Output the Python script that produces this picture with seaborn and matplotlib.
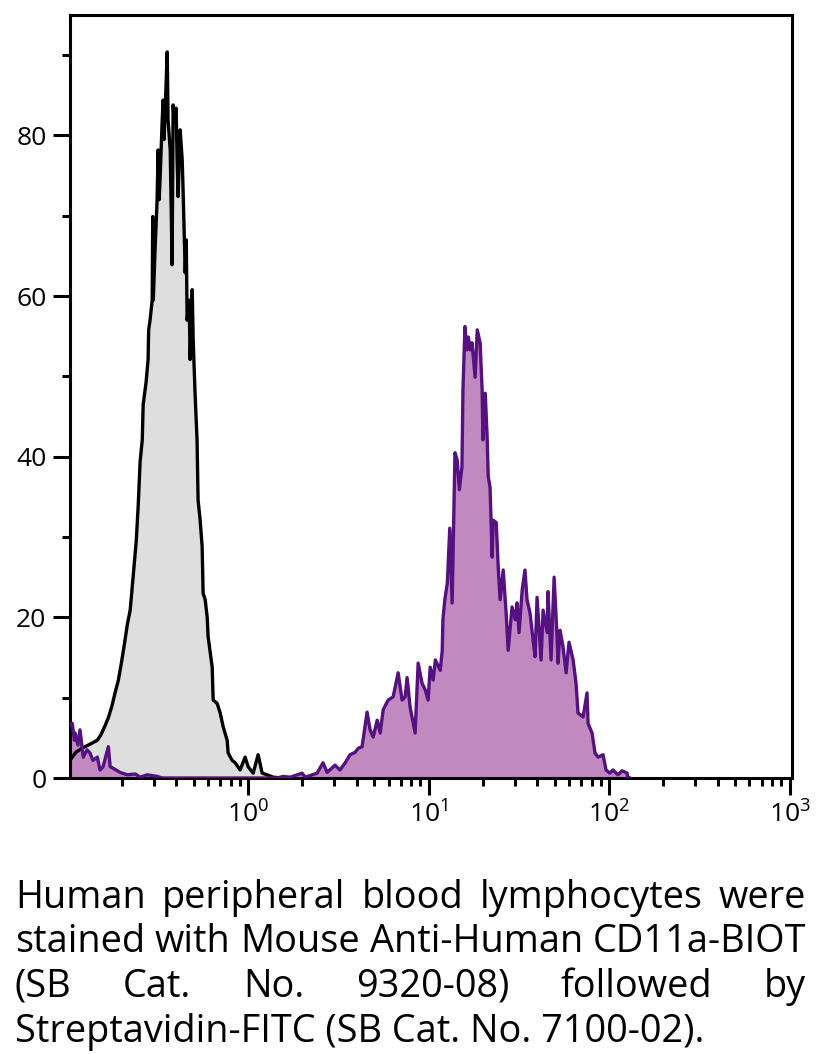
import numpy as np
import pandas as pd
import matplotlib
matplotlib.use("Agg")
import matplotlib.pyplot as plt
import matplotlib.ticker as mticker
import seaborn as sns

# --- Data (intensity, % of max) ---
# unstained / control peak (grey)
CTRL_X = [0.103, 0.111, 0.120, 0.130, 0.138, 0.146, 0.153, 0.161, 0.168, 0.176,
          0.183, 0.191, 0.198, 0.206, 0.214, 0.222, 0.231, 0.240, 0.246, 0.252,
          0.259, 0.262, 0.272, 0.279, 0.281, 0.286, 0.294, 0.296, 0.298, 0.305,
          0.313, 0.317, 0.321, 0.325, 0.334, 0.338, 0.342, 0.347, 0.356, 0.360,
          0.370, 0.379, 0.384, 0.389, 0.399, 0.404, 0.409, 0.420, 0.431, 0.436,
          0.448, 0.454, 0.459, 0.471, 0.477, 0.490, 0.496, 0.508, 0.521, 0.528,
          0.542, 0.556, 0.563, 0.578, 0.593, 0.600, 0.632, 0.640, 0.673, 0.700,
          0.727, 0.765, 0.775, 0.815, 0.847, 0.903, 0.962, 1.000, 1.066, 1.136,
          1.196, 1.274, 1.376, 1.563]
CTRL_Y = [2.2, 3.2, 3.7, 4.1, 4.4, 4.7, 5.4, 6.5, 7.5, 9.0,
          10.6, 12.2, 14.2, 16.6, 19.1, 20.9, 25.3, 29.6, 34.0, 39.4,
          42.1, 46.5, 49.3, 52.1, 55.8, 57.0, 59.5, 69.9, 59.5, 65.8,
          72.0, 78.2, 72.0, 74.5, 81.9, 84.4, 79.5, 83.2, 90.4, 81.9,
          78.2, 63.9, 83.8, 81.9, 83.4, 77.0, 72.4, 80.7, 77.0, 73.2,
          62.9, 67.0, 57.0, 59.5, 52.1, 60.8, 54.5, 47.9, 42.1, 34.6,
          32.1, 28.8, 23.0, 22.2, 20.0, 17.6, 13.8, 9.7, 9.3, 8.1,
          6.4, 4.7, 3.1, 2.2, 1.9, 1.0, 2.6, 1.4, 0.6, 2.9,
          0.6, 0.4, 0.1, 0.0]

# CD11a stained (purple)
CD11A_X = [0.103, 0.106, 0.109, 0.110, 0.114, 0.117, 0.122, 0.128, 0.133, 0.138,
           0.146, 0.151, 0.157, 0.166, 0.168, 0.172, 0.179, 0.195, 0.214, 0.237,
           0.252, 0.276, 0.313, 0.334, 1.450, 1.563, 1.709, 1.991, 2.07, 2.41,
           2.60, 2.74, 3.03, 3.23, 3.45, 3.67, 3.92, 4.07, 4.28, 4.56,
           4.74, 4.93, 5.19, 5.39, 5.60, 5.97, 6.36, 6.78, 7.13, 7.41,
           7.60, 7.90, 8.42, 8.75, 9.20, 9.57, 9.94, 10.2, 10.6, 10.9,
           11.6, 11.9, 12.0, 12.3, 12.7, 13.1, 13.5, 14.0, 14.4, 14.8,
           15.3, 15.5, 15.9, 16.3, 16.6, 17.0, 17.4, 18.1, 18.6, 19.3,
           19.8, 20.0, 20.6, 21.1, 21.4, 21.9, 22.5, 22.8, 23.7, 24.3,
           24.9, 25.9, 26.9, 27.6, 29.0, 30.2, 30.9, 31.7, 33.0, 34.2,
           35.1, 36.5, 37.9, 38.9, 39.9, 42.0, 43.1, 45.4, 45.9, 47.7,
           49.6, 51.5, 52.1, 53.5, 55.6, 57.8, 60.0, 63.2, 65.6, 67.3,
           71.8, 75.5, 76.5, 80.5, 83.6, 86.9, 92.6, 96.2, 101, 105,
           112, 118, 126, 127, 131]
CD11A_Y = [6.6, 6.8, 4.7, 5.6, 4.1, 6.0, 2.6, 3.5, 3.1, 2.2,
           2.6, 1.0, 1.4, 3.5, 3.9, 1.4, 1.2, 0.7, 0.4, 0.5,
           0.1, 0.4, 0.2, 0.0, 0.0, 0.2, 0.1, 0.6, 0.1, 0.6,
           1.9, 0.7, 1.6, 1.0, 1.9, 2.9, 3.2, 3.7, 3.9, 8.2,
           6.0, 5.1, 7.2, 5.6, 8.5, 9.7, 10.1, 13.1, 9.7, 10.1,
           12.5, 8.8, 5.6, 14.3, 11.8, 11.0, 9.7, 13.8, 12.2, 14.7,
           13.4, 15.9, 19.7, 22.2, 24.3, 31.1, 21.8, 40.5, 39.6, 35.9,
           38.7, 48.3, 56.2, 53.3, 54.9, 53.3, 54.2, 49.9, 55.8, 54.2,
           48.3, 42.1, 47.9, 42.5, 37.5, 36.2, 27.5, 32.1, 31.8, 26.3,
           22.2, 25.9, 20.5, 15.9, 21.3, 19.7, 21.8, 18.1, 23.4, 25.9,
           22.2, 20.5, 17.2, 15.1, 22.5, 14.7, 20.9, 18.1, 23.2, 14.7,
           25.0, 17.6, 14.3, 18.4, 16.3, 13.1, 16.9, 14.7, 11.8, 8.1,
           7.6, 10.6, 6.8, 5.6, 3.1, 2.6, 2.9, 1.0, 0.6, 1.0,
           0.4, 0.9, 0.6, 0.1, 0.0]

Y_TICKS = [0, 20, 40, 60, 80]
Y_MINOR = [10, 30, 50, 70, 90]

CAPTION_LINES = [
    "Human peripheral blood lymphocytes were",
    "stained with Mouse Anti-Human CD11a-BIOT",
    "(SB Cat. No. 9320-08) followed by",
    "Streptavidin-FITC (SB Cat. No. 7100-02).",
]

# --- Style ---
sns.set_style("ticks")
plt.rcParams['font.family'] = ['Open Sans', 'DejaVu Sans']
plt.rcParams['mathtext.fontset'] = 'custom'
plt.rcParams['mathtext.rm'] = 'Open Sans'
plt.rcParams['mathtext.it'] = 'Open Sans'
plt.rcParams['mathtext.default'] = 'regular'
plt.rcParams['text.color'] = 'black'
plt.rcParams['xtick.color'] = 'black'
plt.rcParams['ytick.color'] = 'black'
plt.rcParams['axes.labelcolor'] = 'black'

GREY_FILL = '#dedede'
PURPLE_FILL = '#c08ac0'
PURPLE_LINE = '#551180'

ctrl = pd.DataFrame({'x': CTRL_X, 'y': CTRL_Y})
cd11a = pd.DataFrame({'x': CD11A_X, 'y': CD11A_Y})

W_PX, H_PX = 821, 1054
fig = plt.figure(figsize=(W_PX / 100, H_PX / 100), dpi=100)
ax = fig.add_axes([70 / W_PX, 276 / H_PX, 722 / W_PX, 763 / H_PX])

ax.fill_between(ctrl['x'], ctrl['y'], color=GREY_FILL, lw=0, zorder=1)
ax.fill_between(cd11a['x'], cd11a['y'], color=PURPLE_FILL, lw=0, zorder=2)
sns.lineplot(data=ctrl, x='x', y='y', sort=False, estimator=None,
             color='black', lw=2.4, ax=ax, zorder=3)
sns.lineplot(data=cd11a, x='x', y='y', sort=False, estimator=None,
             color=PURPLE_LINE, lw=2.4, ax=ax, zorder=4)

ax.set_xscale('log')
ax.set_xlim(0.103, 1032)
ax.set_ylim(0, 95)
ax.xaxis.set_major_locator(mticker.LogLocator(base=10, numticks=10))
ax.xaxis.set_minor_locator(mticker.LogLocator(base=10, subs=np.arange(2, 10), numticks=20))
ax.xaxis.set_minor_formatter(mticker.NullFormatter())
ax.set_yticks(Y_TICKS)
ax.set_yticks(Y_MINOR, minor=True)
ax.set_xlabel('')
ax.set_ylabel('')

for side in ['left', 'right', 'top', 'bottom']:
    ax.spines[side].set_visible(True)
    ax.spines[side].set_linewidth(2.2)
    ax.spines[side].set_color('black')
ax.tick_params(axis='both', which='major', length=12, width=2.2,
               labelsize=19, pad=5, color='black', labelcolor='black')
ax.tick_params(axis='both', which='minor', length=5.5, width=2.2, color='black')
ax.tick_params(top=False, right=False, which='both')

# --- Justified caption ---
fig.canvas.draw()
renderer = fig.canvas.get_renderer()
left_px, right_px = 15, 806
baselines = [908, 952, 997, 1042]

cap_size = 30
probe = fig.text(0, 0, CAPTION_LINES[-1], fontsize=cap_size)
w_last = probe.get_window_extent(renderer).width
probe.set_text(CAPTION_LINES[1])
w_second = probe.get_window_extent(renderer).width
probe.remove()
cap_size = min(cap_size * 691 / w_last, cap_size * 790 / w_second)

for i, line in enumerate(CAPTION_LINES):
    yb = 1 - baselines[i] / H_PX
    if i == len(CAPTION_LINES) - 1:
        fig.text(left_px / W_PX, yb, line, fontsize=cap_size, va='baseline',
                 ha='left', color='black')
        continue
    words = line.split()
    texts = [fig.text(0, yb, wd, fontsize=cap_size, va='baseline', ha='left',
                      color='black') for wd in words]
    widths = [t.get_window_extent(renderer).width for t in texts]
    gap = (right_px - left_px - sum(widths)) / (len(words) - 1)
    x = left_px
    for t, wd in zip(texts, widths):
        t.set_x(x / W_PX)
        x += wd + gap

fig.savefig('out.png', dpi=100)
